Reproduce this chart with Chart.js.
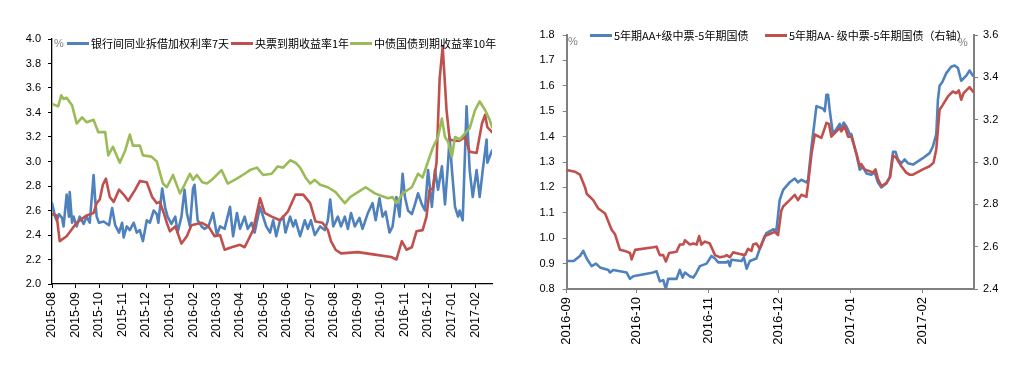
<!DOCTYPE html>
<html><head><meta charset="utf-8">
<script src="https://cdn.jsdelivr.net/npm/chart.js@4/dist/chart.umd.min.js"></script>
<style>
html,body{margin:0;padding:0;background:#fff;}
#wrap{position:relative;width:1028px;height:378px;overflow:hidden;background:#fff;}
canvas{position:absolute;top:0;}
.lg{position:absolute;height:14px;font:11px "Noto Sans CJK SC",sans-serif;color:#000;white-space:nowrap;display:flex;align-items:center;line-height:14px;}
.lg i{display:inline-block;width:22px;height:3px;margin-right:2px;}
.pct{position:absolute;font:11px "Liberation Sans",Arial,sans-serif;color:#808080;line-height:11px;}
</style></head>
<body>
<div id="wrap">
<canvas id="c1" width="505" height="378" style="left:0"></canvas>
<canvas id="c2" width="518" height="378" style="left:510px"></canvas>
<div class="pct" style="left:54px;top:38px">%</div>
<div class="pct" style="left:568px;top:36px">%</div>
<div class="pct" style="left:958px;top:37px">%</div>
</div>
<script>
// ---------- Left chart data (x = days since 2015-08-01) ----------
const leftMonths = ['2015-08','2015-09','2015-10','2015-11','2015-12','2016-01','2016-02','2016-03','2016-04','2016-05','2016-06','2016-07','2016-08','2016-09','2016-10','2016-11','2016-12','2017-01','2017-02'];
const leftNames = ['银行间同业拆借加权利率7天','央票到期收益率1年','中债国债到期收益率10年'];

const ibDays = [0,4,6,9,13,15,19,22,23,26,28,32,36,41,45,49,54,56,58,61,67,74,78,82,87,91,93,97,101,106,110,114,118,123,127,132,136,138,143,147,150,155,160,163,168,172,175,179,183,185,189,194,198,203,209,214,218,224,231,235,240,244,250,254,259,263,270,274,278,283,287,291,296,300,303,309,313,316,322,328,332,336,341,348,354,358,361,365,371,375,380,384,388,393,399,403,410,416,420,425,429,433,438,442,447,451,455,458,462,467,471,475,480,484,488,493,497,501,506,510,514,516,519,523,527,529,533,538,542,546,551,555,559,564,565,571];
const ibRate = [2.66,2.55,2.52,2.57,2.54,2.47,2.73,2.55,2.75,2.50,2.55,2.47,2.55,2.49,2.55,2.50,2.89,2.69,2.55,2.50,2.51,2.48,2.62,2.48,2.42,2.50,2.38,2.47,2.44,2.50,2.42,2.44,2.35,2.52,2.50,2.60,2.57,2.50,2.78,2.62,2.55,2.49,2.55,2.42,2.55,2.77,2.58,2.47,2.78,2.81,2.52,2.47,2.45,2.47,2.58,2.40,2.47,2.45,2.63,2.39,2.58,2.45,2.55,2.45,2.50,2.42,2.63,2.55,2.47,2.42,2.52,2.39,2.52,2.55,2.42,2.55,2.47,2.52,2.39,2.52,2.45,2.52,2.40,2.47,2.44,2.52,2.69,2.47,2.55,2.47,2.55,2.45,2.58,2.47,2.54,2.45,2.58,2.66,2.52,2.70,2.55,2.59,2.42,2.47,2.71,2.55,2.90,2.71,2.60,2.57,2.65,2.74,2.65,2.60,2.93,2.63,2.93,2.77,2.96,2.65,2.99,3.20,2.93,2.63,2.55,2.60,2.52,3.45,2.93,2.71,2.93,2.71,2.93,3.18,2.99,3.09];

const cbDays = [0,6,10,19,32,45,54,58,62,66,70,75,80,87,93,99,108,114,123,130,136,140,145,149,153,160,168,175,181,194,203,211,218,224,233,244,250,261,270,276,285,296,306,316,326,335,342,351,358,362,368,375,397,419,440,447,454,460,467,473,481,486,490,494,499,503,507,512,516,523,529,536,542,551,558,562,565,571];
const cbYield = [2.57,2.56,2.35,2.39,2.50,2.56,2.58,2.66,2.69,2.81,2.86,2.71,2.67,2.77,2.73,2.68,2.77,2.84,2.83,2.71,2.66,2.67,2.58,2.50,2.43,2.47,2.33,2.39,2.48,2.50,2.47,2.39,2.40,2.28,2.30,2.32,2.30,2.44,2.70,2.58,2.55,2.52,2.59,2.73,2.73,2.66,2.51,2.50,2.44,2.35,2.28,2.25,2.26,2.24,2.22,2.20,2.35,2.28,2.30,2.43,2.44,2.55,2.77,2.78,2.99,3.67,3.94,3.42,3.18,3.17,3.17,3.20,3.08,3.07,3.31,3.38,3.28,3.24];

const gbDays = [0,8,12,15,19,26,32,39,45,54,60,69,73,79,88,95,101,105,114,118,129,136,144,149,157,166,172,179,183,188,195,201,209,220,228,240,250,257,266,274,285,293,300,309,316,322,329,335,341,348,358,368,380,387,397,407,419,427,436,442,447,455,467,475,481,488,494,501,506,510,514,519,523,529,536,542,549,555,562,568,571];
const gbYield = [3.47,3.45,3.54,3.51,3.52,3.46,3.31,3.36,3.32,3.34,3.24,3.24,3.05,3.12,2.99,3.09,3.22,3.13,3.13,3.05,3.04,3.00,2.82,2.79,2.89,2.74,2.81,2.90,2.85,2.89,2.83,2.82,2.86,2.93,2.82,2.86,2.90,2.93,2.95,2.89,2.90,2.96,2.95,3.01,2.99,2.95,2.87,2.82,2.85,2.81,2.79,2.75,2.66,2.71,2.75,2.79,2.74,2.72,2.70,2.71,2.66,2.74,2.79,2.90,2.87,3.00,3.11,3.20,3.35,3.20,3.16,3.04,3.20,3.18,3.23,3.27,3.42,3.49,3.42,3.34,3.28];

// ---------- Right chart data (x = days since 2016-09-01) ----------
const rightMonths = ['2016-09','2016-10','2016-11','2016-12','2017-01','2017-02'];
const rightNames = ['5年期AA+级中票-5年期国债','5年期AA- 级中票-5年期国债（右轴）'];

const aapDays = [0,3,5.7,7.1,8.6,10.7,12.6,14.3,17.9,18.6,20,22.9,25.7,27.2,28.6,37.2,38.6,40,41.5,42.6,43.6,47.2,48.6,49.8,50.8,52.9,54.4,55.5,57.2,60.1,62.2,63.7,65.1,68.7,69.4,70.1,70.8,75.1,76.1,77.3,78.7,81.5,83,85.8,88.7,90.1,91.5,93,95.8,98,99.4,100.8,103,103.7,105.2,107.3,110.1,110.9,111.6,112.3,113,114.4,115.9,117.3,118,119,120.2,121.6,122.3,124.5,125.9,127.3,128.8,130.9,132.3,133.7,135.2,137.3,138.8,140.2,141.3,142.3,143.8,145.2,146.6,148.8,153,155.9,157.3,158.8,159.5,160.2,161.4,163.1,165.2,166.7,168.1,169.5,171.7,173.1,174.5];
const aapSpread = [0.91,0.91,0.93,0.95,0.92,0.89,0.90,0.885,0.875,0.865,0.875,0.87,0.865,0.84,0.85,0.865,0.87,0.83,0.835,0.80,0.84,0.84,0.875,0.845,0.865,0.85,0.845,0.86,0.89,0.90,0.93,0.92,0.905,0.905,0.91,0.89,0.915,0.91,0.925,0.88,0.91,0.92,0.96,1.02,1.035,1.03,1.15,1.19,1.22,1.235,1.22,1.23,1.22,1.23,1.36,1.52,1.51,1.50,1.565,1.565,1.505,1.41,1.43,1.45,1.43,1.455,1.44,1.41,1.41,1.33,1.27,1.28,1.255,1.25,1.26,1.22,1.20,1.215,1.24,1.34,1.34,1.31,1.295,1.31,1.295,1.29,1.315,1.335,1.36,1.41,1.545,1.60,1.615,1.65,1.675,1.68,1.67,1.62,1.64,1.66,1.64];

const aamDays = [0,3.6,5.7,7.9,8.6,11.4,13.6,16.5,19.3,20.7,22.9,25,27.2,27.9,29.4,37.2,38.6,40,41.5,42.6,44,47.2,48.6,50.1,50.8,52.9,54.4,55.8,56.9,57.9,59.4,61.5,63.7,65.8,68,68.7,70.1,71.5,74.4,76.6,77.9,79.4,80.1,81.5,83,85.1,87.2,89.4,90.8,92.2,93,95.8,98,99.4,100.8,103,103.7,105.2,106.6,109.4,110.4,111.6,112.7,113.7,115.9,117.3,118,119.4,120.9,122.3,124.5,125.9,126.6,128,131.6,132.7,133.7,135.2,137.3,139,140.2,141.6,143.8,145.9,147.3,148.8,153,155.9,157.6,158.8,160.2,161.6,163.8,165.9,167.4,168.5,169.5,170.5,173.1,174.5];
const aamSpread = [2.962,2.954,2.94,2.88,2.85,2.82,2.78,2.757,2.68,2.66,2.585,2.58,2.57,2.54,2.585,2.597,2.60,2.56,2.56,2.53,2.57,2.576,2.61,2.61,2.63,2.61,2.615,2.61,2.65,2.61,2.624,2.615,2.56,2.55,2.555,2.56,2.55,2.573,2.565,2.56,2.59,2.58,2.61,2.615,2.59,2.65,2.66,2.67,2.655,2.77,2.79,2.82,2.845,2.82,2.845,2.836,2.894,3.04,3.13,3.114,3.145,3.185,3.18,3.12,3.145,3.16,3.145,3.17,3.12,3.12,3.04,2.98,2.99,2.965,2.95,2.965,2.92,2.886,2.90,2.93,3.03,3.02,2.98,2.95,2.94,2.94,2.965,2.98,2.996,3.06,3.247,3.27,3.31,3.333,3.325,3.338,3.294,3.325,3.354,3.333];

// ---------- helpers ----------
const BLUE='#4F81BD', RED='#C0504D', GREEN='#9BBB59';
const wrap=document.getElementById('wrap');
function monthDay(label, base){const [y,m]=label.split('-').map(Number);return (Date.UTC(y,m-1,1)-base)/864e5;}
function pts(days, vals){return days.map((d,i)=>({x:d,y:vals[i]}));}
function ds(label,days,vals,color,order,axis){return {label,data:pts(days,vals),borderColor:color,backgroundColor:color,order,yAxisID:axis||'y'};}
function legend(chart, lefts, top){
  chart.data.datasets.forEach((d,i)=>{
    const el=document.createElement('div');el.className='lg';
    el.style.left=lefts[i]+'px';el.style.top=top+'px';
    const line=document.createElement('i');line.style.background=d.borderColor;
    const t=document.createElement('span');t.textContent=d.label;
    el.appendChild(line);el.appendChild(t);wrap.appendChild(el);
  });
}
const baseOpts = {
  responsive:false, animation:false, devicePixelRatio:1,
  elements:{point:{radius:0}, line:{borderWidth:2.6, tension:0, borderJoinStyle:'round', borderCapStyle:'round'}},
  plugins:{legend:{display:false}, tooltip:{enabled:false}}
};
function xScale(months, base, max, h, col, bw, fs){
  const days=months.map(m=>monthDay(m,base));
  return {type:'linear', min:0, max:max,
    afterBuildTicks:s=>{s.ticks=days.map(v=>({value:v}));},
    afterFit:s=>{s.height=h;},
    ticks:{callback:(v,i)=>months[i], maxRotation:90, minRotation:90, autoSkip:false, padding:4, color:'#000', font:{family:'Liberation Sans', size:fs}},
    grid:{drawOnChartArea:false, drawTicks:true, tickLength:4, color:col, lineWidth:1},
    border:{display:true, color:col, width:bw}};
}
function yScale(min,max,step,w,pos,col,bw,pad){
  return {type:'linear', position:pos, min, max, afterFit:s=>{s.width=w;},
    ticks:{stepSize:step, callback:v=>v.toFixed(1), padding:pad, color:'#000', font:{family:'Liberation Sans', size:11}},
    grid:{drawOnChartArea:false, drawTicks:true, tickLength:4, color:col, lineWidth:1},
    border:{display:true, color:col, width:bw}};
}

// ---------- Left chart ----------
const c1 = new Chart(document.getElementById('c1'), {
  type:'line',
  data:{datasets:[
    ds(leftNames[0], ibDays, ibRate, BLUE, 3),
    ds(leftNames[1], cbDays, cbYield, RED, 2),
    ds(leftNames[2], gbDays, gbYield, GREEN, 1)
  ]},
  options:Object.assign({}, baseOpts, {
    layout:{padding:{left:0, top:39, right:13, bottom:0}},
    scales:{
      x:xScale(leftMonths, Date.UTC(2015,7,1), 571, 94, '#000', 1.3, 12.5),
      y:yScale(2.0, 4.0, 0.2, 52, 'left', '#000', 1.3, 7)
    }
  })
});
legend(c1, [67, 231, 350], 36);

// ---------- Right chart ----------
const c2 = new Chart(document.getElementById('c2'), {
  type:'line',
  data:{datasets:[
    ds(rightNames[0], aapDays, aapSpread, BLUE, 2, 'y'),
    ds(rightNames[1], aamDays, aamSpread, RED, 1, 'y1')
  ]},
  options:Object.assign({}, baseOpts, {
    layout:{padding:{left:0, top:35, right:0, bottom:0}},
    scales:{
      x:xScale(rightMonths, Date.UTC(2016,8,1), 175, 89, '#808080', 2, 13),
      y:yScale(0.8, 1.8, 0.1, 56.7, 'left', '#808080', 2, 8),
      y1:yScale(2.4, 3.6, 0.2, 54, 'right', '#808080', 2, 5)
    }
  })
});
legend(c2, [590, 765], 28);
</script>
</body></html>
